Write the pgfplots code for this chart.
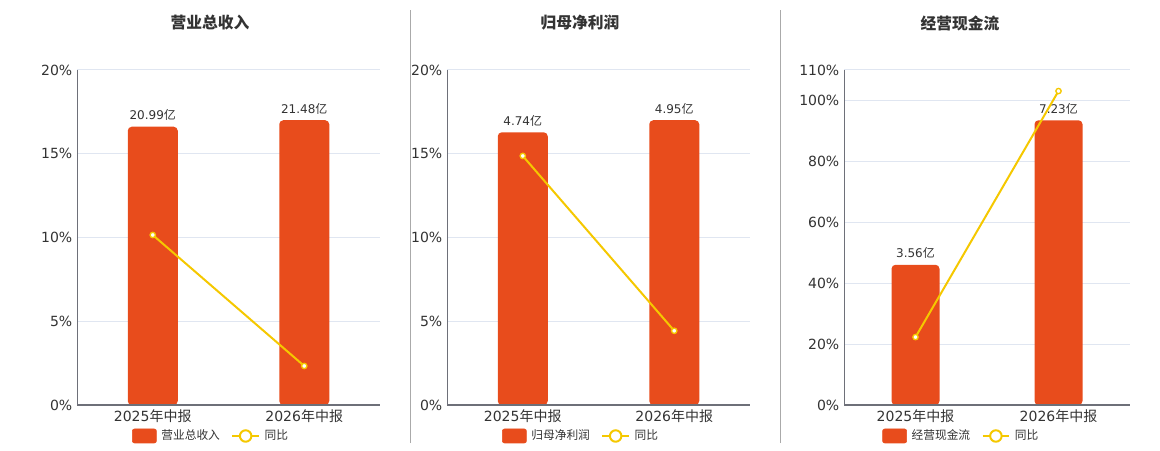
\documentclass[border=0pt]{standalone}
\usepackage{pgfplots}
\pgfplotsset{compat=1.18}
\usepackage{fontspec}
\setmainfont{DejaVu Sans}
\newfontfamily\cjk{Noto Sans CJK SC}
\definecolor{barred}{RGB}{232,76,28}
\definecolor{lineyellow}{RGB}{245,200,0}
\definecolor{gridc}{RGB}{224,230,241}
\definecolor{axisc}{RGB}{110,112,121}
\definecolor{textc}{RGB}{51,51,51}
\definecolor{sepc}{RGB}{170,170,170}

\pgfplotstableread{
x v
0 20.99
1 21.48
}\revbars
\pgfplotstableread{
x v
0 4.74
1 4.95
}\profbars
\pgfplotstableread{
x v
0 3.56
1 7.23
}\cashbars

\pgfplotsset{
  /pgf/number format/assume math mode=true,
  base/.style={scale only axis, anchor=south west, xmin=-0.5, xmax=1.5, ymin=0, height=251.25pt},
  pct/.style={base, axis x line=none, axis y line*=left,
    y axis line style={draw=axisc, line width=0.75pt},
    xtick=\empty, ymajorgrids, grid style={draw=gridc, line width=0.75pt},
    major tick length=0pt, ytick style={draw=none},
    yticklabel={\pgfmathprintnumber{\tick}\%},
    yticklabel style={font=\fontsize{10.5}{12}\selectfont, text=textc}},
  bars/.style={base, hide axis, clip=false},
  barplot/.style={ybar, fill=barred, draw=none, rounded corners=3pt,
    nodes near coords={\pgfmathprintnumber[fixed,fixed zerofill,precision=2]{\pgfplotspointmeta}{\cjk 亿}},
    nodes near coords style={font=\fontsize{9}{10}\selectfont, text=textc, anchor=south, yshift=1pt}},
  lin/.style={base, axis y line=none, ytick=\empty, axis x line*=bottom,
    x axis line style={draw=axisc, line width=1.1pt},
    xtick={0,1}, xticklabels={{2025{\cjk 年中报}},{2026{\cjk 年中报}}},
    major tick length=0pt, xtick style={draw=none},
    extra x ticks={-0.5,0.5,1.5}, extra x tick labels={},
    extra x tick style={major tick length=4pt, tick align=outside, tick style={draw=axisc, line width=0.75pt}},
    xticklabel style={font=\fontsize{10.5}{12}\selectfont, text=textc},
    clip=false,
    legend columns=2,
    legend style={anchor=center, draw=none, fill=none, inner sep=0pt,
      font=\cjk\fontsize{8.8}{10}\selectfont, text=textc,
      nodes={inner xsep=3.5pt, inner ysep=1pt},
      /tikz/every even column/.append style={column sep=5pt}},
    legend cell align=left},
  lineplot/.style={lineyellow, line width=1.5pt, mark=*, mark size=2pt,
    mark options={fill=white, draw=lineyellow, line width=1pt},
    legend image code/.code={\draw[lineyellow, line width=1.5pt] (0pt,0pt) -- (20pt,0pt);
      \draw[lineyellow, line width=1.5pt, fill=white] (10pt,0pt) circle (4.3pt);}},
  barlegend/.style={legend image code/.code={\fill[barred, rounded corners=1.5pt] (0pt,-5.25pt) rectangle (18pt,5.25pt);}}
}

\begin{document}
\begin{tikzpicture}
\path[use as bounding box] (0,0) rectangle (870pt,337.5pt);

% separators
\draw[sepc, line width=0.75pt] (307.9pt,5.25pt) -- (307.9pt,330pt);
\draw[sepc, line width=0.75pt] (585.4pt,5.25pt) -- (585.4pt,330pt);

% titles
\node[font=\cjk\bfseries\fontsize{11.8}{13}\selectfont, text=textc] at (157.5pt,320.25pt) {营业总收入};
\node[font=\cjk\bfseries\fontsize{11.8}{13}\selectfont, text=textc] at (435pt,320.25pt) {归母净利润};
\node[font=\cjk\bfseries\fontsize{11.8}{13}\selectfont, text=textc] at (720pt,320.25pt) {经营现金流};

% ---------- Panel 1 ----------
\begin{axis}[pct, at={(57.75pt,33.75pt)}, width=227.25pt, ymax=20, ytick={0,5,10,15,20}]
\end{axis}
\begin{axis}[bars, at={(57.75pt,33.75pt)}, width=227.25pt, ymax=25.27, bar width=37.5pt]
\addplot[barplot] table[x=x, y=v] {\revbars};
\end{axis}
\begin{axis}[lin, at={(57.75pt,33.75pt)}, width=227.25pt, ymax=20,
  legend style={at={(axis description cs:0.447,-0.0925)}}]
\addlegendimage{barlegend}
\addlegendentry{营业总收入}
\addplot[lineplot] coordinates {(0,10.15) (1,2.33)};
\addlegendentry{同比}
\end{axis}

% ---------- Panel 2 ----------
\begin{axis}[pct, at={(335.25pt,33.75pt)}, width=227.25pt, ymax=20, ytick={0,5,10,15,20}]
\end{axis}
\begin{axis}[bars, at={(335.25pt,33.75pt)}, width=227.25pt, ymax=5.8235, bar width=37.5pt]
\addplot[barplot] table[x=x, y=v] {\profbars};
\end{axis}
\begin{axis}[lin, at={(335.25pt,33.75pt)}, width=227.25pt, ymax=20,
  legend style={at={(axis description cs:0.447,-0.0925)}}]
\addlegendimage{barlegend}
\addlegendentry{归母净利润}
\addplot[lineplot] coordinates {(0,14.87) (1,4.43)};
\addlegendentry{同比}
\end{axis}

% ---------- Panel 3 ----------
\begin{axis}[pct, at={(633pt,33.75pt)}, width=214.5pt, ymax=110, ytick={0,20,40,60,80,100,110}]
\end{axis}
\begin{axis}[bars, at={(633pt,33.75pt)}, width=214.5pt, ymax=8.5059, bar width=36pt]
\addplot[barplot] table[x=x, y=v] {\cashbars};
\end{axis}
\begin{axis}[lin, at={(633pt,33.75pt)}, width=214.5pt, ymax=110,
  legend style={at={(axis description cs:0.415,-0.0925)}}]
\addlegendimage{barlegend}
\addlegendentry{经营现金流}
\addplot[lineplot] coordinates {(0,22.3) (1,103.09)};
\addlegendentry{同比}
\end{axis}
\end{tikzpicture}
\end{document}
